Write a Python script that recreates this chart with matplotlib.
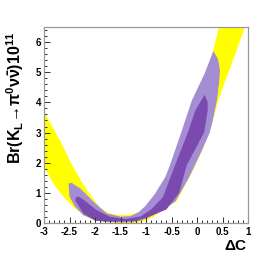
import numpy as np
import matplotlib
matplotlib.use("Agg")
from matplotlib import pyplot as plt
from matplotlib.ticker import MultipleLocator

# Boundaries (Delta C, Br x 10^11)
# yellow band: inner (upper-left) edge and outer (lower-right) edge
yel_in_x = [-3.05, -3.0, -2.69, -2.43, -2.16, -1.90, -1.71, -1.51, -1.31, -1.12, -0.99, -0.86, -0.7,
            -0.5, -0.3, -0.1, 0.08, 0.2, 0.31, 0.43, 0.5]
yel_in_y = [3.85, 3.69, 2.75, 1.86, 1.09, 0.50, 0.31, 0.26, 0.27, 0.37, 0.56, 0.82, 1.20,
            1.80, 2.70, 3.60, 4.40, 5.00, 5.67, 6.50, 7.00]
yel_out_x = [-3.05, -3.0, -2.82, -2.62, -2.43, -2.23, -2.03, -1.8, -1.5, -1.2, -1.0, -0.86, -0.66,
             -0.4, -0.12, 0.1, 0.28, 0.42, 0.53, 0.66, 0.94, 1.05]
yel_out_y = [2.05, 1.86, 1.31, 0.87, 0.54, 0.26, 0.10, 0.03, 0.0, 0.0, 0.08, 0.20, 0.43,
             0.72, 1.60, 2.40, 3.20, 4.07, 4.60, 5.18, 6.50, 6.90]

# light purple contour, traced round from the left tip
lp_x = [-2.52, -2.50, -2.39, -2.23, -1.97, -1.7, -1.45, -1.2, -1.0, -0.84, -0.62, -0.42, -0.15,
        0.10, 0.25, 0.31, 0.39, 0.43, 0.45, 0.41, 0.32,
        0.15, -0.10, -0.31, -0.53, -0.62, -0.83, -1.02, -1.15, -1.3, -1.5, -1.77, -2.05, -2.29, -2.46]
lp_y = [1.31, 0.87, 0.54, 0.26, 0.08, 0.03, 0.02, 0.04, 0.14, 0.28, 0.49, 0.72, 1.53,
        2.42, 3.00, 3.41, 4.07, 4.60, 5.07, 5.45, 5.70,
        4.96, 4.07, 3.00, 1.92, 1.53, 0.95, 0.55, 0.35, 0.23, 0.21, 0.32, 0.74, 1.15, 1.33]

# dark purple contour
dp_x = [-2.36, -2.39, -2.23, -2.0, -1.8, -1.5, -1.2, -0.95, -0.6, -0.35, -0.2, 0.14, 0.21, 0.21, 0.15,
        -0.03, -0.18, -0.43, -0.67, -0.9, -1.1, -1.4, -1.71, -1.97, -2.23, -2.30]
dp_y = [0.87, 0.76, 0.32, 0.08, 0.05, 0.05, 0.07, 0.2, 0.45, 1.0, 1.92, 3.0, 3.74, 4.0, 4.25,
        3.74, 3.00, 1.92, 0.85, 0.45, 0.22, 0.13, 0.21, 0.43, 0.78, 0.86]

x_major = [-3, -2.5, -2, -1.5, -1, -0.5, 0, 0.5, 1]
x_labels = ["-3", "-2.5", "-2", "-1.5", "-1", "-0.5", "0", "0.5", "1"]
y_major = [0, 1, 2, 3, 4, 5, 6]

plt.rcParams['font.family'] = ['Liberation Sans', 'DejaVu Sans']
plt.rcParams['font.weight'] = 'bold'
plt.rcParams['mathtext.fontset'] = 'custom'
plt.rcParams['mathtext.rm'] = 'Liberation Sans:bold'
plt.rcParams['mathtext.it'] = 'Liberation Sans:bold'
plt.rcParams['mathtext.bf'] = 'Liberation Sans:bold'

fig = plt.figure(figsize=(2.76, 2.64), dpi=100)
ax = fig.add_axes([44 / 276, 41 / 264, 204 / 276, 196 / 264])

ax.fill(yel_in_x + yel_out_x[::-1], yel_in_y + yel_out_y[::-1], color="#ffff00", lw=0)
ax.fill(lp_x, lp_y, color="#a58dd3", lw=0)
ax.fill(dp_x, dp_y, color="#7a4aae", lw=0)

ax.set_xlim(-3, 1)
ax.set_ylim(0, 6.5)
ax.set_xticks(x_major)
ax.set_xticklabels(x_labels)
ax.set_yticks(y_major)
ax.xaxis.set_minor_locator(MultipleLocator(0.1))
ax.yaxis.set_minor_locator(MultipleLocator(0.2))
ax.tick_params(which="both", direction="in", top=False, right=False, labelsize=7, color="#333333")
ax.tick_params(which="major", length=4.5, width=0.7)
ax.tick_params(which="minor", length=2.3, width=0.7)
ax.tick_params(axis="x", pad=3)
ax.tick_params(axis="y", pad=2)
for s in ax.spines.values():
    s.set_color("#999999")
    s.set_linewidth(0.9)

fig.text(15 / 276, 1 - 32 / 264, r"Br(K$_\mathregular{L}$→π$^\mathregular{0}$ν$\bar{\nu}$)10$^\mathregular{11}$",
         rotation=90, ha="center", va="top", fontsize=11.5, fontweight="bold")
fig.text(246 / 276, 18 / 264, "ΔC", ha="right", va="center", fontsize=11, fontweight="bold")

fig.savefig("out.png", dpi=100)
